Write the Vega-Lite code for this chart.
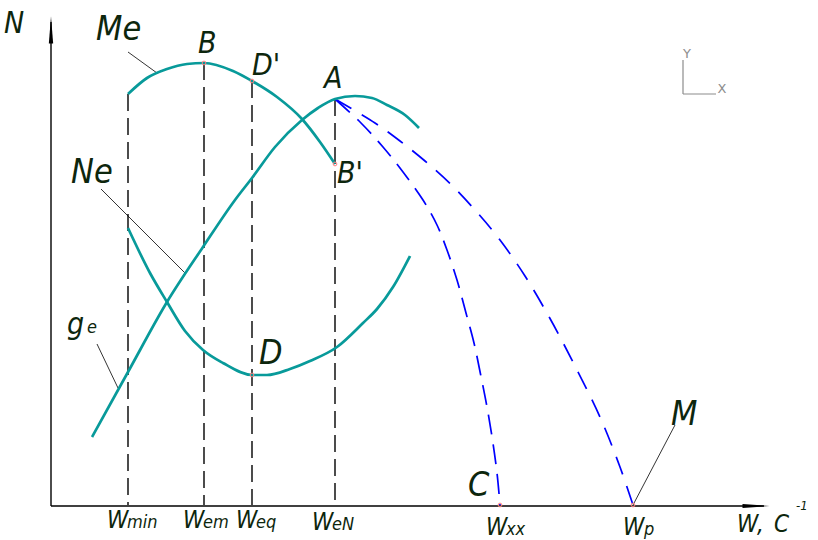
{
  "$schema": "https://vega.github.io/schema/vega-lite/v6.json",
  "width": 818,
  "height": 540,
  "padding": 0,
  "autosize": {"type": "fit", "contains": "padding"},
  "background": "white",
  "config": {"view": {"stroke": null}},
  "datasets": {
    "curves": [
      {"curve": "Me", "i": 1, "x": 128, "y": 94},
      {"curve": "Me", "i": 2, "x": 147, "y": 78},
      {"curve": "Me", "i": 3, "x": 167, "y": 69},
      {"curve": "Me", "i": 4, "x": 187, "y": 64},
      {"curve": "Me", "i": 5, "x": 204, "y": 63},
      {"curve": "Me", "i": 6, "x": 233, "y": 71},
      {"curve": "Me", "i": 7, "x": 252, "y": 81},
      {"curve": "Me", "i": 8, "x": 277, "y": 97},
      {"curve": "Me", "i": 9, "x": 302, "y": 119},
      {"curve": "Me", "i": 10, "x": 320, "y": 142},
      {"curve": "Me", "i": 11, "x": 335, "y": 164},
      {"curve": "Ne", "i": 1, "x": 92, "y": 437},
      {"curve": "Ne", "i": 2, "x": 128, "y": 372},
      {"curve": "Ne", "i": 3, "x": 167, "y": 302},
      {"curve": "Ne", "i": 4, "x": 203, "y": 247},
      {"curve": "Ne", "i": 5, "x": 235, "y": 200},
      {"curve": "Ne", "i": 6, "x": 252, "y": 178},
      {"curve": "Ne", "i": 7, "x": 275, "y": 147},
      {"curve": "Ne", "i": 8, "x": 302, "y": 120},
      {"curve": "Ne", "i": 9, "x": 318, "y": 108},
      {"curve": "Ne", "i": 10, "x": 335, "y": 99},
      {"curve": "Ne", "i": 11, "x": 355, "y": 96},
      {"curve": "Ne", "i": 12, "x": 372, "y": 98},
      {"curve": "Ne", "i": 13, "x": 387, "y": 105},
      {"curve": "Ne", "i": 14, "x": 405, "y": 115},
      {"curve": "Ne", "i": 15, "x": 419, "y": 128},
      {"curve": "ge", "i": 1, "x": 128, "y": 228},
      {"curve": "ge", "i": 2, "x": 150, "y": 273},
      {"curve": "ge", "i": 3, "x": 167, "y": 302},
      {"curve": "ge", "i": 4, "x": 185, "y": 331},
      {"curve": "ge", "i": 5, "x": 203, "y": 350},
      {"curve": "ge", "i": 6, "x": 223, "y": 363},
      {"curve": "ge", "i": 7, "x": 252, "y": 375},
      {"curve": "ge", "i": 8, "x": 267, "y": 375},
      {"curve": "ge", "i": 9, "x": 290, "y": 369},
      {"curve": "ge", "i": 10, "x": 310, "y": 361},
      {"curve": "ge", "i": 11, "x": 337, "y": 347},
      {"curve": "ge", "i": 12, "x": 363, "y": 323},
      {"curve": "ge", "i": 13, "x": 377, "y": 309},
      {"curve": "ge", "i": 14, "x": 393, "y": 287},
      {"curve": "ge", "i": 15, "x": 410, "y": 256}
    ],
    "dashedC": [
      {"i": 1, "x": 335, "y": 99},
      {"i": 2, "x": 361, "y": 123},
      {"i": 3, "x": 383, "y": 147},
      {"i": 4, "x": 403, "y": 172},
      {"i": 5, "x": 423, "y": 200},
      {"i": 6, "x": 437, "y": 225},
      {"i": 7, "x": 447, "y": 250},
      {"i": 8, "x": 457, "y": 280},
      {"i": 9, "x": 466, "y": 313},
      {"i": 10, "x": 474, "y": 343},
      {"i": 11, "x": 480.5, "y": 374},
      {"i": 12, "x": 487, "y": 407},
      {"i": 13, "x": 492.5, "y": 440},
      {"i": 14, "x": 497, "y": 473},
      {"i": 15, "x": 500, "y": 505}
    ],
    "dashedM": [
      {"i": 1, "x": 335, "y": 99},
      {"i": 2, "x": 375, "y": 123},
      {"i": 3, "x": 400, "y": 141},
      {"i": 4, "x": 425, "y": 161},
      {"i": 5, "x": 450, "y": 183.5},
      {"i": 6, "x": 475, "y": 210},
      {"i": 7, "x": 500, "y": 240},
      {"i": 8, "x": 525, "y": 276},
      {"i": 9, "x": 550, "y": 318.5},
      {"i": 10, "x": 575, "y": 366},
      {"i": 11, "x": 600, "y": 417},
      {"i": 12, "x": 620, "y": 467},
      {"i": 13, "x": 633, "y": 505}
    ],
    "verticals": [
      {"name": "Wmin", "x": 128, "y": 94, "y2": 505},
      {"name": "Wem", "x": 204, "y": 63, "y2": 505},
      {"name": "Weq", "x": 252, "y": 81, "y2": 505},
      {"name": "WeN", "x": 335, "y": 99, "y2": 505}
    ],
    "strokes": [
      {"id": "yaxis", "x": 51, "y": 506},
      {"id": "yaxis", "x": 51, "y": 22},
      {"id": "xaxis", "x": 51, "y": 506},
      {"id": "xaxis", "x": 764, "y": 506}
    ],
    "leaders": [
      {"id": "Me", "x": 128, "y": 52},
      {"id": "Me", "x": 157, "y": 73},
      {"id": "Ne", "x": 101, "y": 189},
      {"id": "Ne", "x": 185, "y": 273},
      {"id": "ge", "x": 97, "y": 344},
      {"id": "ge", "x": 118, "y": 388},
      {"id": "M", "x": 633, "y": 505},
      {"id": "M", "x": 675, "y": 425}
    ],
    "yarrow": [{"x": 51, "y": 30}],
    "xarrow": [{"x": 756, "y": 506}],
    "marks": [
      {"p": "B", "x": 204, "y": 63},
      {"p": "D'", "x": 252, "y": 81},
      {"p": "B'", "x": 335, "y": 164},
      {"p": "D", "x": 252, "y": 375},
      {"p": "Wxx", "x": 500, "y": 505},
      {"p": "Wp", "x": 633, "y": 505}
    ],
    "bigLabels": [
      {"t": "Me", "x": 96, "y": 40},
      {"t": "Ne", "x": 71, "y": 183},
      {"t": "D", "x": 259, "y": 364},
      {"t": "C", "x": 468, "y": 496},
      {"t": "M", "x": 671, "y": 425}
    ],
    "midLabels": [
      {"t": "N", "x": 4, "y": 33},
      {"t": "B", "x": 198, "y": 53},
      {"t": "D'", "x": 252, "y": 75},
      {"t": "A", "x": 324, "y": 88},
      {"t": "B'", "x": 337, "y": 183},
      {"t": "g", "x": 67, "y": 334}
    ],
    "wLabels": [
      {"t": "W", "x": 107, "y": 528},
      {"t": "W", "x": 183, "y": 528},
      {"t": "W", "x": 236, "y": 528},
      {"t": "W", "x": 312, "y": 530},
      {"t": "W", "x": 486, "y": 535},
      {"t": "W", "x": 623, "y": 535},
      {"t": "W", "x": 737, "y": 532},
      {"t": ",", "x": 757, "y": 532},
      {"t": "C", "x": 774, "y": 532}
    ],
    "subLabels": [
      {"t": "min", "x": 127, "y": 528},
      {"t": "em", "x": 203, "y": 528},
      {"t": "eq", "x": 256, "y": 528},
      {"t": "eN", "x": 332, "y": 530},
      {"t": "xx", "x": 506, "y": 535},
      {"t": "p", "x": 644, "y": 535},
      {"t": "e", "x": 87, "y": 333}
    ],
    "supLabels": [
      {"t": "-1", "x": 796, "y": 510}
    ],
    "ucsLines": [
      {"id": "v", "x": 683, "y": 60},
      {"id": "v", "x": 683, "y": 94},
      {"id": "h", "x": 683, "y": 94},
      {"id": "h", "x": 716, "y": 94}
    ],
    "ucsText": [
      {"t": "Y", "x": 687, "y": 58},
      {"t": "X", "x": 722, "y": 93}
    ]
  },
  "encoding": {
    "x": {"field": "x", "type": "quantitative", "scale": {"domain": [0, 818], "nice": false, "zero": false}, "axis": null},
    "y": {"field": "y", "type": "quantitative", "scale": {"domain": [0, 540], "nice": false, "zero": false, "reverse": true}, "axis": null}
  },
  "layer": [
    {
      "data": {"name": "verticals"},
      "mark": {"type": "rule", "color": "#000000", "strokeWidth": 1.4, "strokeDash": [17, 7]},
      "encoding": {"y2": {"field": "y2"}}
    },
    {
      "data": {"name": "strokes"},
      "mark": {"type": "line", "color": "black", "strokeWidth": 1.4},
      "encoding": {"detail": {"field": "id"}}
    },
    {
      "data": {"name": "yarrow"},
      "mark": {"type": "point", "filled": true, "color": "black", "opacity": 1, "size": 729, "shape": "M0,-1L0.16,1L-0.16,1Z"},
      "encoding": {}
    },
    {
      "data": {"name": "xarrow"},
      "mark": {"type": "point", "filled": true, "color": "black", "opacity": 1, "size": 729, "shape": "M1,0L-1,0.14L-1,-0.14Z"},
      "encoding": {}
    },
    {
      "data": {"name": "leaders"},
      "mark": {"type": "line", "color": "black", "strokeWidth": 0.8},
      "encoding": {"detail": {"field": "id"}}
    },
    {
      "data": {"name": "dashedC"},
      "mark": {"type": "line", "color": "#0000ff", "strokeWidth": 1.7, "strokeDash": [20, 10], "interpolate": "catmull-rom"},
      "encoding": {"order": {"field": "i"}}
    },
    {
      "data": {"name": "dashedM"},
      "mark": {"type": "line", "color": "#0000ff", "strokeWidth": 1.7, "strokeDash": [19, 12], "interpolate": "catmull-rom"},
      "encoding": {"order": {"field": "i"}}
    },
    {
      "data": {"name": "curves"},
      "mark": {"type": "line", "color": "#089a9a", "strokeWidth": 2.7, "interpolate": "monotone"},
      "encoding": {"detail": {"field": "curve"}, "order": {"field": "i"}}
    },
    {
      "data": {"name": "marks"},
      "mark": {"type": "point", "shape": "circle", "color": "#ff8080", "size": 14, "strokeWidth": 1, "opacity": 1},
      "encoding": {}
    },
    {
      "data": {"name": "bigLabels"},
      "mark": {"type": "text", "align": "left", "baseline": "alphabetic", "font": "DejaVu Sans Condensed, Liberation Sans", "fontStyle": "italic", "fontSize": 34, "color": "#0d260d"},
      "encoding": {"text": {"field": "t"}}
    },
    {
      "data": {"name": "midLabels"},
      "mark": {"type": "text", "align": "left", "baseline": "alphabetic", "font": "DejaVu Sans Condensed, Liberation Sans", "fontStyle": "italic", "fontSize": 30, "color": "#0d260d"},
      "encoding": {"text": {"field": "t"}}
    },
    {
      "data": {"name": "wLabels"},
      "mark": {"type": "text", "align": "left", "baseline": "alphabetic", "font": "DejaVu Sans Condensed, Liberation Sans", "fontStyle": "italic", "fontSize": 24, "color": "#0d260d"},
      "encoding": {"text": {"field": "t"}}
    },
    {
      "data": {"name": "subLabels"},
      "mark": {"type": "text", "align": "left", "baseline": "alphabetic", "font": "DejaVu Sans Condensed, Liberation Sans", "fontStyle": "italic", "fontSize": 18, "color": "#0d260d"},
      "encoding": {"text": {"field": "t"}}
    },
    {
      "data": {"name": "supLabels"},
      "mark": {"type": "text", "align": "left", "baseline": "alphabetic", "font": "DejaVu Sans Condensed, Liberation Sans", "fontStyle": "italic", "fontSize": 13, "color": "#0d260d"},
      "encoding": {"text": {"field": "t"}}
    },
    {
      "data": {"name": "ucsLines"},
      "mark": {"type": "line", "color": "#8c8c8c", "strokeWidth": 1.2},
      "encoding": {"detail": {"field": "id"}}
    },
    {
      "data": {"name": "ucsText"},
      "mark": {"type": "text", "align": "center", "baseline": "alphabetic", "font": "DejaVu Sans", "fontSize": 13, "color": "#8c8c8c"},
      "encoding": {"text": {"field": "t"}}
    }
  ]
}
